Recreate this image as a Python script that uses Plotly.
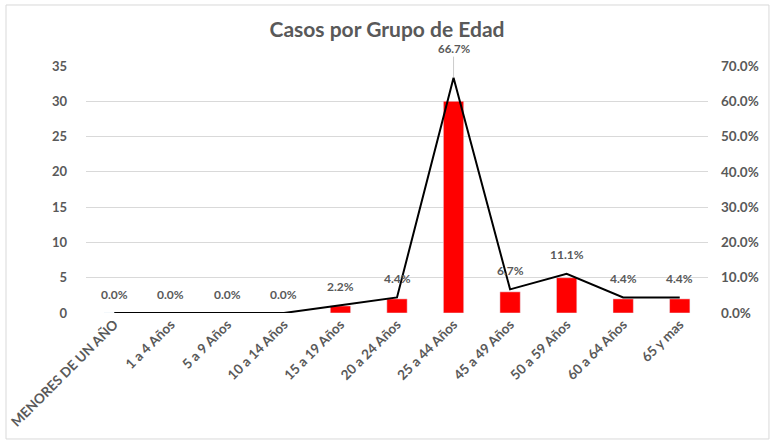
import plotly.graph_objects as go

categories = ["MENORES DE UN AÑO", "1 a 4 Años", "5 a 9 Años", "10 a 14 Años", "15 a 19 Años",
              "20 a 24 Años", "25 a 44 Años", "45 a 49 Años", "50 a 59 Años", "60 a 64 Años", "65 y mas"]
casos = [0, 0, 0, 0, 1, 2, 30, 3, 5, 2, 2]
porcentaje = [0.0, 0.0, 0.0, 0.0, 0.022, 0.044, 0.667, 0.067, 0.111, 0.044, 0.044]
left_ticks = [0, 5, 10, 15, 20, 25, 30, 35]
right_ticks = [0, 0.1, 0.2, 0.3, 0.4, 0.5, 0.6, 0.7]

FONT = "Lato"
GRAY = "#595959"

fig = go.Figure()
fig.add_trace(go.Bar(x=categories, y=casos, marker_color="#ff0000", name="Casos"))
fig.add_trace(go.Scatter(x=categories, y=porcentaje, yaxis="y2", mode="lines",
                         line=dict(color="black", width=2), name="%"))

for c, p in zip(categories, porcentaje):
    if p > 0.5:
        fig.add_annotation(x=c, y=p, yref="y2", text=f"{p*100:.1f}%", showarrow=True,
                           ax=0, ay=-21, arrowhead=0, arrowwidth=0.6, arrowcolor="#a6a6a6",
                           yanchor="bottom",
                           font=dict(family=FONT, size=11.5, color=GRAY, weight="bold"))
    else:
        fig.add_annotation(x=c, y=p, yref="y2", text=f"{p*100:.1f}%", showarrow=False,
                           yshift=19, font=dict(family=FONT, size=12, color=GRAY, weight="bold"))

fig.add_shape(type="rect", xref="paper", yref="paper", x0=-0.1286, x1=1.098, y0=-0.51, y1=1.247,
              line=dict(color="#d9d9d9", width=1), fillcolor="rgba(0,0,0,0)", layer="below")

fig.update_layout(
    width=774, height=440,
    margin=dict(l=86, r=66, t=66, b=127),
    paper_bgcolor="white", plot_bgcolor="white",
    showlegend=False,
    bargap=0.64,
    title=dict(text="Casos por Grupo de Edad", x=0.5, xanchor="center", y=0.932, yanchor="middle",
               font=dict(family=FONT, size=21, color=GRAY, weight="bold")),
    xaxis=dict(tickangle=-45, tickfont=dict(family=FONT, size=13.5, color=GRAY, weight="bold"),
               showgrid=False, showline=False, ticks="", automargin=False),
    yaxis=dict(range=[0, 35], tickvals=left_ticks, gridcolor="#d9d9d9", zeroline=False,
               tickfont=dict(family=FONT, size=13, color=GRAY, weight="bold"), ticks="",
               ticklabelstandoff=18, automargin=False),
    yaxis2=dict(range=[0, 0.7], tickvals=right_ticks, tickformat=".1%", overlaying="y", side="right",
                showgrid=False, zeroline=False, ticks="", automargin=False,
                tickfont=dict(family=FONT, size=13.5, color=GRAY, weight="bold"), ticklabelstandoff=12),
)

fig.write_html("out.html", config={"displayModeBar": False},
               post_script="document.body.style.margin='0';")
